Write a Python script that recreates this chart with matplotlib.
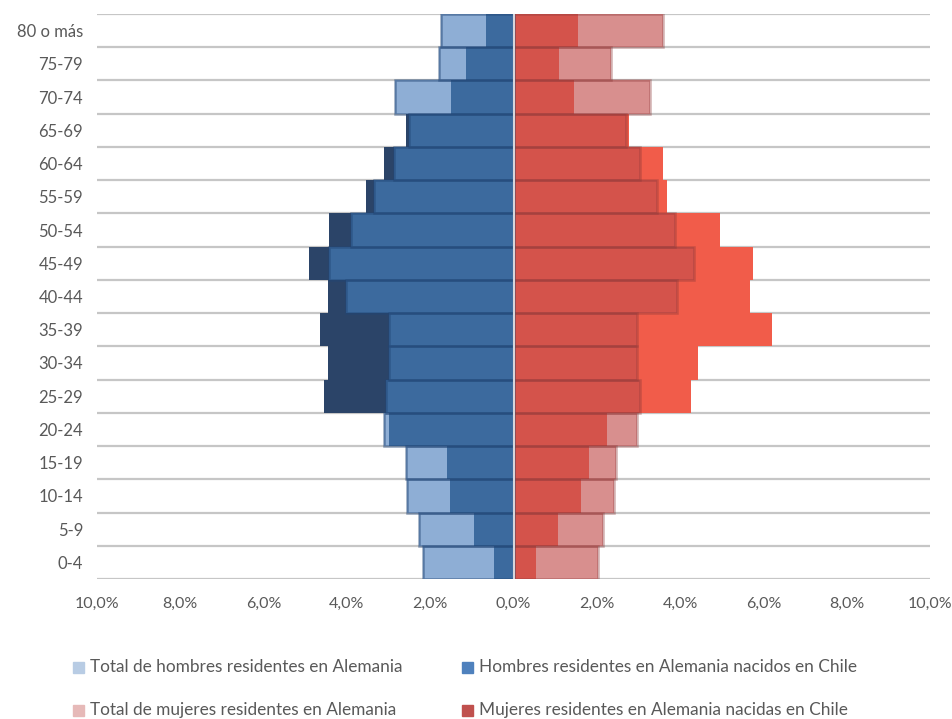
import matplotlib
matplotlib.use("Agg")
import matplotlib.pyplot as plt
import numpy as np
from matplotlib.patches import Rectangle

plt.rcParams['font.family'] = ['Lato', 'DejaVu Sans']

age_groups = ["0-4", "5-9", "10-14", "15-19", "20-24", "25-29", "30-34", "35-39",
              "40-44", "45-49", "50-54", "55-59", "60-64", "65-69", "70-74", "75-79", "80 o más"]
male_total = [2.17, 2.28, 2.55, 2.59, 3.10, 3.06, 2.98, 2.98, 4.02, 4.42, 3.90, 3.34, 2.86, 2.50, 2.84, 1.79, 1.74]
male_chile = [0.47, 0.94, 1.52, 1.59, 2.98, 4.55, 4.46, 4.64, 4.46, 4.90, 4.43, 3.53, 3.12, 2.57, 1.50, 1.15, 0.67]
female_total = [2.04, 2.14, 2.41, 2.45, 2.97, 3.03, 2.96, 2.96, 3.93, 4.33, 3.88, 3.44, 3.03, 2.71, 3.28, 2.35, 3.58]
female_chile = [0.54, 1.06, 1.63, 1.81, 2.24, 4.27, 4.43, 6.20, 5.67, 5.75, 4.95, 3.68, 3.60, 2.78, 1.46, 1.09, 1.55]
x_ticks = [-10, -8, -6, -4, -2, 0, 2, 4, 6, 8, 10]
legend_labels = ["Total de hombres residentes en Alemania",
                 "Hombres residentes en Alemania nacidos en Chile",
                 "Total de mujeres residentes en Alemania",
                 "Mujeres residentes en Alemania nacidas en Chile"]

W, H = 952, 719
fig = plt.figure(figsize=(W / 100, H / 100), dpi=100)
ax = fig.add_axes([97 / W, (H - 579) / H, (930 - 97) / W, (579 - 14) / H])

y = np.arange(len(age_groups))
mt, mc = np.array(male_total), np.array(male_chile)
ft, fc = np.array(female_total), np.array(female_chile)

# gridlines at category boundaries
for b in np.arange(-0.5, len(age_groups), 1.0):
    ax.axhline(b, color='#C6C6C6', lw=1.6, zorder=0)


def side(tot, chi, sign, c_light, c_mid, c_dark, e_tot):
    ov = np.minimum(tot, chi)
    ax.barh(y, sign * ov, height=1.0, color=c_mid, zorder=2, lw=0)
    lext = np.where(tot > chi, tot - chi, 0)
    ax.barh(y, sign * lext, left=sign * chi, height=1.0, color=c_light, zorder=2, lw=0)
    dext = np.where(chi > tot, chi - tot, 0)
    ax.barh(y, sign * dext, left=sign * tot, height=1.0, color=c_dark, zorder=2, lw=0)
    ax.barh(y, sign * tot, height=1.0, fill=False, edgecolor=e_tot, lw=1.8, zorder=3)


side(mt, mc, -1, '#8EAED5', '#3C6A9E', '#2B4468', (0.13, 0.27, 0.46, 0.5))
side(ft, fc, 1, '#D88F8E', '#D4534B', '#F15C4A', (0.55, 0.22, 0.22, 0.4))

ax.axvline(0, color='#D6D6DC', lw=1.5, zorder=4)

ax.set_xlim(-10, 10)
ax.set_ylim(-0.5, len(age_groups) - 0.5)
ax.set_xticks(x_ticks)
ax.set_xticklabels([f"{abs(v):.1f}%".replace('.', ',') for v in x_ticks])
ax.set_yticks(y)
ax.set_yticklabels(age_groups)
ax.tick_params(axis='both', length=0, labelcolor='#595959')
ax.tick_params(axis='x', pad=13, labelsize=11.5)
ax.tick_params(axis='y', pad=10, labelsize=12)
for s in ax.spines.values():
    s.set_visible(False)

# legend
leg_colors = ['#B8CCE4', '#4F81BD', '#E6B9B8', '#C0504D']
pos = [(73, 667), (462, 667), (73, 710), (462, 710)]
for (px, py), col, lab in zip(pos, leg_colors, legend_labels):
    sz = 11
    fig.patches.append(Rectangle((px / W, (H - py - sz / 2) / H), sz / W, sz / H,
                                 transform=fig.transFigure, color=col, figure=fig))
    fig.text((px + sz + 6) / W, (H - py) / H, lab, ha='left', va='center',
             fontsize=12.4, color='#595959')

fig.savefig("out.png", dpi=100)
